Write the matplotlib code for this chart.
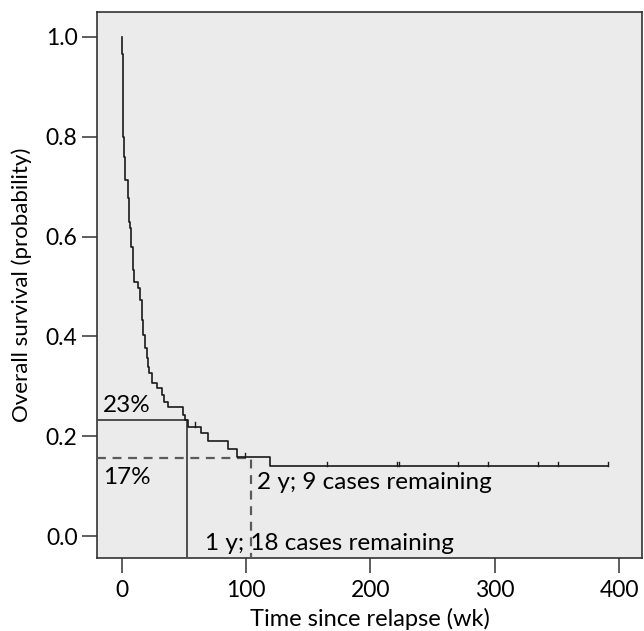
import matplotlib
matplotlib.use("Agg")
import matplotlib.pyplot as plt
import numpy as np

# Kaplan-Meier steps (weeks, survival after each drop)
drop_wk = [0.3, 0.6, 1.1, 1.8, 2.8, 4.6, 5.6, 6.4, 7.5, 8.6, 9.8, 13.1, 14.5,
           15.8, 17.1, 18.5, 19.9, 21, 22, 24, 28, 32, 33.8, 37.3, 48.8, 50.7,
           53.5, 63.6, 69.5, 85.5, 92.2, 119]
surv = [0.966, 0.894, 0.80, 0.76, 0.713, 0.677, 0.629, 0.617, 0.579, 0.533,
        0.509, 0.497, 0.473, 0.433, 0.403, 0.377, 0.357, 0.339, 0.327, 0.307,
        0.297, 0.283, 0.269, 0.259, 0.243, 0.232, 0.219, 0.206, 0.191, 0.174,
        0.158, 0.14]
end_wk = 391
censor_wk = [58.8, 99, 164.8, 221, 223, 270.7, 294.8, 335, 351, 391]

# 1 y and 2 y reference marks
ref_wk = [52, 104]
ref_surv = [0.233, 0.157]
ref_pct = ['23%', '17%']
ref_txt = ['1 y; 18 cases remaining', '2 y; 9 cases remaining']

plt.rcParams['font.family'] = ['Lato', 'DejaVu Sans']

fig = plt.figure(figsize=(6.44, 6.31), dpi=100)
ax = fig.add_axes([0.1506, 0.1157, 0.8463, 0.8653])
ax.set_facecolor('#ebebeb')

xs = [0] + drop_wk + [end_wk]
ys = [1.0] + surv + [surv[-1]]
ax.step(xs, ys, where='post', color='#1a1a1a', lw=1.2, zorder=5)

# censor ticks
def surv_at(t):
    s = 1.0
    for d, v in zip(drop_wk, surv):
        if t >= d:
            s = v
    return s
for c in censor_wk:
    s = surv_at(c)
    ax.plot([c, c], [s, s + 0.009], color='#1a1a1a', lw=1.0, zorder=5)

ymin, ymax = -0.044, 1.05
xmin, xmax = -20.1, 418.5
ax.plot([xmin, ref_wk[0], ref_wk[0]], [ref_surv[0], ref_surv[0], ymin],
        color='#4d4d4d', lw=1.4, zorder=4)
ax.plot([xmin, ref_wk[1], ref_wk[1]], [ref_surv[1], ref_surv[1], ymin],
        color='#5a5a5a', lw=1.6, ls=(0, (4, 3)), zorder=4)

fs = 17.5
ax.text(-15.3, 0.262, ref_pct[0], fontsize=fs, va='center', ha='left')
ax.text(-15.3, 0.117, ref_pct[1], fontsize=fs, va='center', ha='left')
ax.text(108.6, 0.108, ref_txt[1], fontsize=fs, va='center', ha='left')
ax.text(66.8, -0.014, ref_txt[0], fontsize=fs, va='center', ha='left')

ax.set_xlim(xmin, xmax)
ax.set_ylim(ymin, ymax)
ax.set_xticks([0, 100, 200, 300, 400])
ax.set_yticks([0.0, 0.2, 0.4, 0.6, 0.8, 1.0])
ax.set_yticklabels(['0.0', '0.2', '0.4', '0.6', '0.8', '1.0'])
ax.tick_params(axis='both', labelsize=16.5, direction='out', color='#333333')
ax.tick_params(axis='x', length=11, width=1.1, pad=5)
ax.tick_params(axis='y', length=11, width=1.1, pad=3)
for sp in ax.spines.values():
    sp.set_color('#333333')
    sp.set_linewidth(1.2)

ax.set_xlabel('Time since relapse (wk)', fontsize=17, labelpad=5)
ax.set_ylabel('Overall survival (probability)', fontsize=16, labelpad=10)

fig.savefig('out.png', dpi=100)
